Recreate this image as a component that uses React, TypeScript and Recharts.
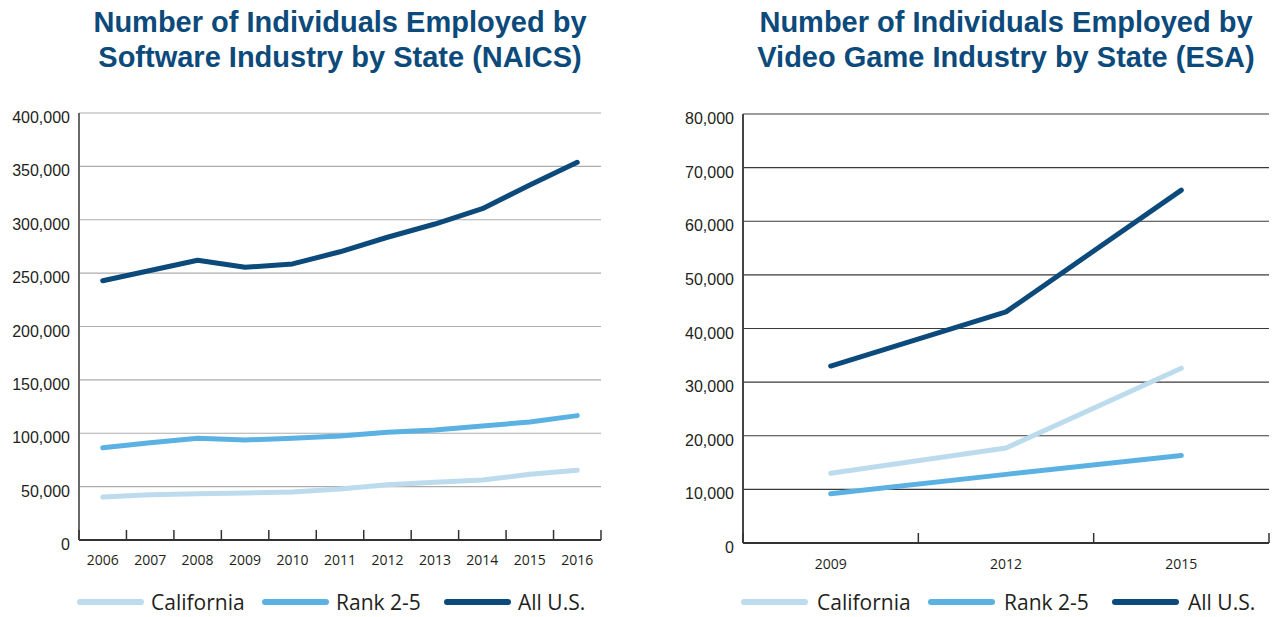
import React from 'react';
import { LineChart, Line, XAxis, YAxis, CartesianGrid } from 'recharts';

// Software industry (NAICS), 2006-2016
const softwareYears = ['2006', '2007', '2008', '2009', '2010', '2011', '2012', '2013', '2014', '2015', '2016'];
const softwareCalifornia = [40300, 42500, 43400, 44000, 45000, 47800, 51800, 54000, 56200, 61500, 65300];
const softwareRank = [86500, 91000, 95300, 93700, 95300, 97400, 100900, 103000, 106800, 110500, 116500];
const softwareAllUS = [242900, 252500, 262000, 255500, 258600, 270000, 283600, 296000, 310400, 332600, 353800];
const softwareTicks = [0, 50000, 100000, 150000, 200000, 250000, 300000, 350000, 400000];

// Video game industry (ESA)
const gameYears = ['2009', '2012', '2015'];
const gameCalifornia = [13000, 17700, 32600];
const gameRank = [9200, 12800, 16300];
const gameAllUS = [33000, 43100, 65800];
const gameTicks = [0, 10000, 20000, 30000, 40000, 50000, 60000, 70000, 80000];

const seriesNames = ['California', 'Rank 2-5', 'All U.S.'];
const seriesColors = ['#bcdcee', '#5cb1e3', '#0c4a7b'];
const seriesKeys = ['california', 'rank', 'allUS'];

const TITLE_BLUE = '#0c4a7b';
const TEXT = '#231f20';
const CHART_H = 580;
const XAXIS_H = 30;
const TICK_GAP = 16;

interface ChartConfig {
  left: number;
  width: number;
  plotLeft: number;
  plotRight: number;
  plotTop: number;
  plotBottom: number;
  title: string[];
  years: string[];
  california: number[];
  rank: number[];
  allUS: number[];
  ticks: number[];
  gridColor: string;
  yAxisColor: string;
  labelOffset: number;
  legendX: number[];
  legendGap: number;
  legendTop: number;
}

const fmt = (v: number) => v.toLocaleString('en-US');

const YTick = (props: any) => {
  const { x, y, payload } = props;
  return (
    <text x={x} y={y + 10} textAnchor="end" fill={TEXT} fontSize={16}
      fontFamily="'Liberation Sans', Arial, sans-serif">
      {fmt(payload.value)}
    </text>
  );
};

const BandTick = (props: any) => {
  const { x, y, payload, index, bandWidth, labelOffset } = props;
  const half = bandWidth / 2;
  const axisY = y - TICK_GAP;
  return (
    <g>
      {index === 0 && (
        <line x1={x - half} x2={x - half} y1={axisY} y2={axisY - 10} stroke="#333" strokeWidth={1.5} />
      )}
      <line x1={x + half} x2={x + half} y1={axisY} y2={axisY - 10} stroke="#333" strokeWidth={1.5} />
      <text x={x} y={axisY + labelOffset} textAnchor="middle" fill={TEXT} fontSize={14}
        fontFamily="'Open Sans', sans-serif">
        {payload.value}
      </text>
    </g>
  );
};

const EmploymentChart = ({ cfg }: { cfg: ChartConfig }) => {
  const data = cfg.years.map((year, i) => ({
    year,
    california: cfg.california[i],
    rank: cfg.rank[i],
    allUS: cfg.allUS[i],
  }));
  const plotW = cfg.plotRight - cfg.plotLeft;
  const bw = plotW / cfg.years.length;
  const center = cfg.left + cfg.plotLeft + plotW / 2;

  return (
    <>
      <div style={{
        position: 'absolute', left: center - 320, top: 5, width: 640, textAlign: 'center',
        fontFamily: "'Liberation Sans', Arial, sans-serif", fontWeight: 'bold', fontSize: 29,
        lineHeight: '35px', color: TITLE_BLUE,
      }}>
        {cfg.title.map((t) => <div key={t}>{t}</div>)}
      </div>
      <div style={{ position: 'absolute', left: cfg.left, top: 0 }}>
        <LineChart
          width={cfg.width}
          height={CHART_H}
          data={data}
          margin={{ top: cfg.plotTop, right: cfg.width - cfg.plotRight, left: 0, bottom: CHART_H - cfg.plotBottom - XAXIS_H }}
        >
          <CartesianGrid vertical={false} stroke={cfg.gridColor} strokeWidth={1.2} />
          <XAxis
            dataKey="year"
            height={XAXIS_H}
            interval={0}
            padding={{ left: bw / 2, right: bw / 2 }}
            axisLine={{ stroke: '#333', strokeWidth: 2 }}
            tickLine={false}
            tickSize={0}
            tickMargin={TICK_GAP}
            tick={(p: any) => <BandTick {...p} bandWidth={bw} labelOffset={cfg.labelOffset} />}
          />
          <YAxis
            width={cfg.plotLeft}
            domain={[cfg.ticks[0], cfg.ticks[cfg.ticks.length - 1]]}
            ticks={cfg.ticks}
            interval={0}
            axisLine={{ stroke: cfg.yAxisColor, strokeWidth: 2 }}
            tickLine={false}
            tickMargin={3}
            tick={<YTick />}
          />
          {seriesKeys.map((k, i) => (
            <Line
              key={k}
              type="linear"
              dataKey={k}
              name={seriesNames[i]}
              stroke={seriesColors[i]}
              strokeWidth={5}
              strokeLinecap="round"
              strokeLinejoin="round"
              dot={false}
              activeDot={false}
              isAnimationActive={false}
            />
          ))}
        </LineChart>
      </div>
      {seriesNames.map((name, i) => (
        <div key={name} style={{
          position: 'absolute', left: cfg.legendX[i], top: cfg.legendTop, height: 24,
          display: 'flex', alignItems: 'center', whiteSpace: 'nowrap',
        }}>
          <div style={{ width: 67, height: 6, borderRadius: 3, background: seriesColors[i] }} />
          <span style={{
            marginLeft: cfg.legendGap, fontFamily: "'Open Sans', sans-serif", fontSize: 21,
            lineHeight: '24px', color: TEXT,
          }}>{name}</span>
        </div>
      ))}
    </>
  );
};

const softwareCfg: ChartConfig = {
  left: 0,
  width: 620,
  plotLeft: 79,
  plotRight: 601,
  plotTop: 113,
  plotBottom: 540,
  title: ['Number of Individuals Employed by', 'Software Industry by State (NAICS)'],
  years: softwareYears,
  california: softwareCalifornia,
  rank: softwareRank,
  allUS: softwareAllUS,
  ticks: softwareTicks,
  gridColor: '#adadad',
  yAxisColor: '#6a6a6a',
  labelOffset: 25,
  legendX: [77, 262, 444],
  legendGap: 7,
  legendTop: 590,
};

const gameCfg: ChartConfig = {
  left: 660,
  width: 615,
  plotLeft: 83,
  plotRight: 609,
  plotTop: 114,
  plotBottom: 543,
  title: ['Number of Individuals Employed by', 'Video Game Industry by State (ESA)'],
  years: gameYears,
  california: gameCalifornia,
  rank: gameRank,
  allUS: gameAllUS,
  ticks: gameTicks,
  gridColor: '#3a3a3a',
  yAxisColor: '#444',
  labelOffset: 26,
  legendX: [741, 928, 1112],
  legendGap: 9,
  legendTop: 590,
};

export default function App() {
  return (
    <div style={{ position: 'absolute', left: 0, top: 0, width: 1275, height: 617, background: '#fff', overflow: 'hidden' }}>
      <EmploymentChart cfg={softwareCfg} />
      <EmploymentChart cfg={gameCfg} />
    </div>
  );
}
